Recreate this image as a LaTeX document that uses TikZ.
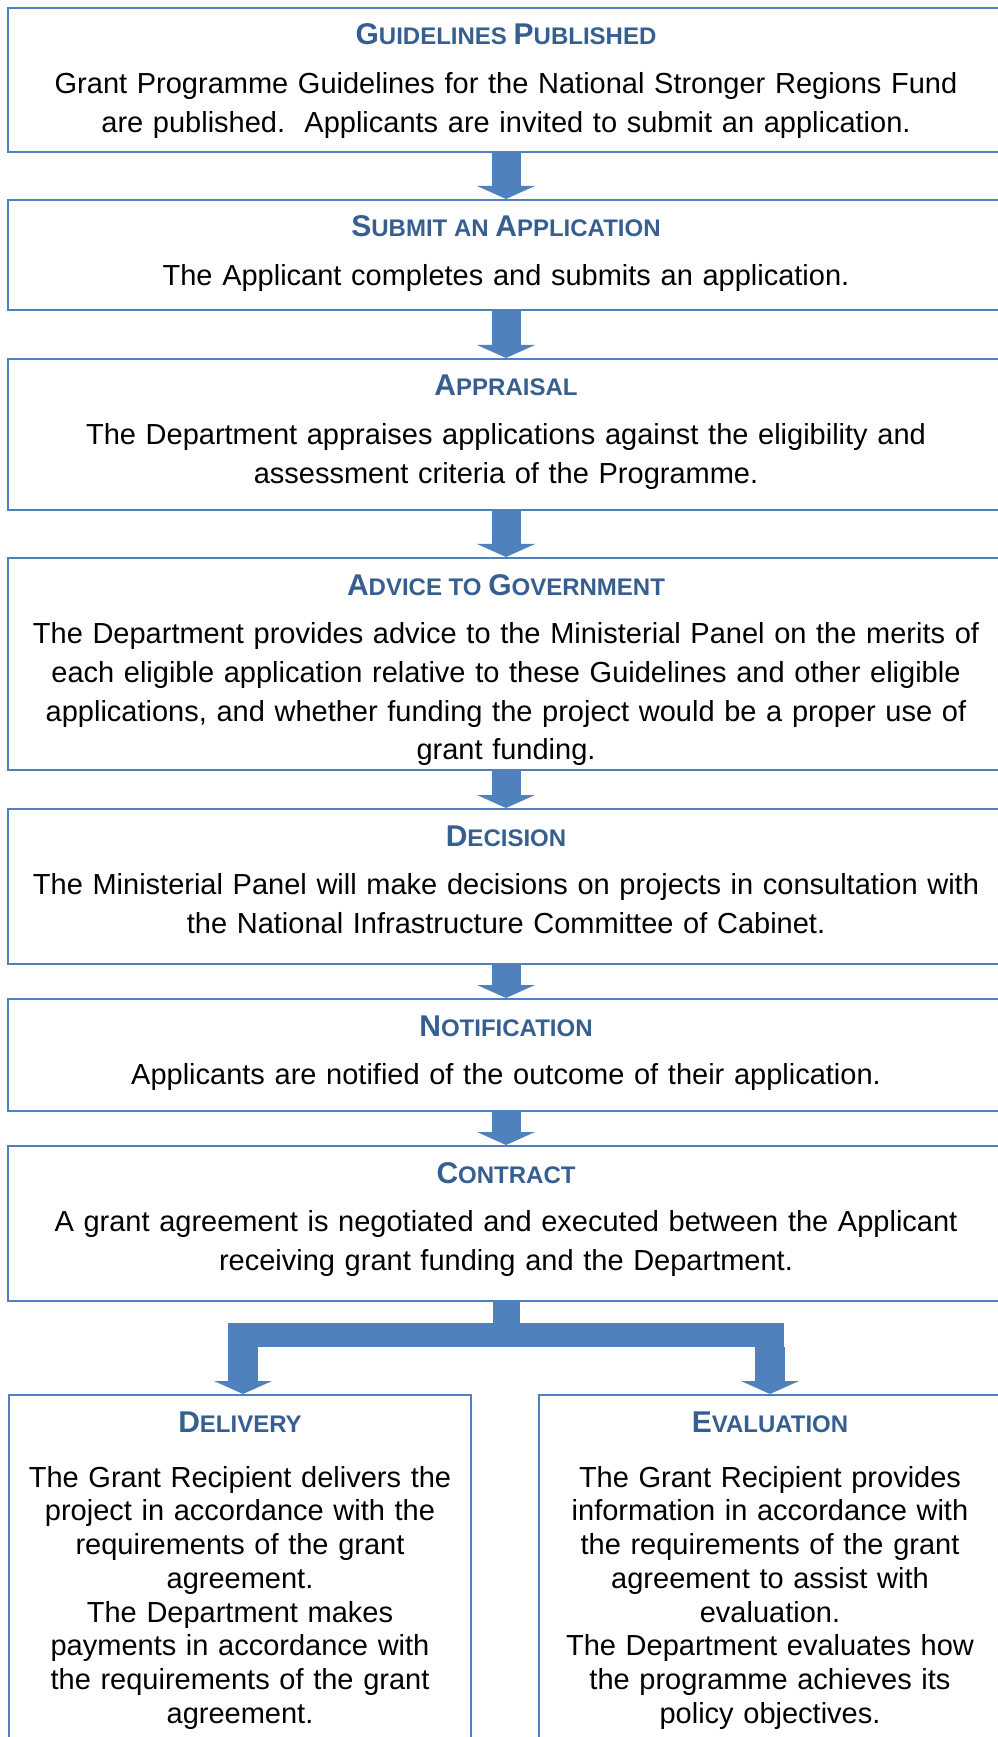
\documentclass[tikz,border=0pt]{standalone}
\usepackage{fontspec}
\setmainfont{Liberation Sans}
\usetikzlibrary{arrows.meta}
\frenchspacing
\definecolor{boxblue}{HTML}{4F81BD}
\definecolor{headblue}{HTML}{365F91}
\newcommand{\initcap}[1]{{\fontsize{12}{14}\selectfont #1}}
\tikzset{
stage/.style={draw=boxblue, line width=0.75pt, minimum width=398.4pt,
	anchor=north, inner sep=0pt},
heading/.style={anchor=base, inner sep=0pt, text=headblue,
	font=\fontsize{9.6}{12}\selectfont\bfseries},
body/.style={anchor=base, inner sep=0pt, text width=440pt, align=center,
	font=\fontsize{11.6}{15.5}\selectfont},
narrow/.style={body, text width=180pt, font=\fontsize{11.6}{13.5}\selectfont},
stem/.style={draw=boxblue, line width=10.8pt},
flow/.style={draw=boxblue, line width=11.6pt,
	-{Triangle[length=5.2pt, width=23.2pt, line width=0pt]}}
}

\begin{document}
\begin{tikzpicture}[x=0.4pt, y=-0.4pt]
	\useasboundingbox (0,0) rectangle (998,1737);
	\node[stage, minimum height=57.6pt] (pub) at (506,7) {};
	\node[heading] (pubT) at ([yshift=-15.2pt]pub.north) {\initcap{G}UIDELINES \initcap{P}UBLISHED};
	\node[body] (pubB) at ([yshift=-34.6pt]pub.north) {Grant Programme Guidelines for the National Stronger Regions Fund\\
		are published.~ Applicants are invited to submit an application.};
	\node[stage, minimum height=44pt] (sub) at (506,199) {};
	\node[heading] (subT) at ([yshift=-15.2pt]sub.north) {\initcap{S}UBMIT AN \initcap{A}PPLICATION};
	\node[body] (subB) at ([yshift=-34.6pt]sub.north) {The Applicant completes and submits an application.};
	\node[stage, minimum height=60.4pt] (appr) at (506,358) {};
	\node[heading] (apprT) at ([yshift=-15.2pt]appr.north) {\initcap{A}PPRAISAL};
	\node[body] (apprB) at ([yshift=-34.6pt]appr.north) {The Department appraises applications against the eligibility and\\
		assessment criteria of the Programme.};
	\node[stage, minimum height=84.8pt] (adv) at (506,557) {};
	\node[heading] (advT) at ([yshift=-15.2pt]adv.north) {\initcap{A}DVICE TO \initcap{G}OVERNMENT};
	\node[body] (advB) at ([yshift=-34.6pt]adv.north) {The Department provides advice to the Ministerial Panel on the merits of\\
		each eligible application relative to these Guidelines and other eligible\\
		applications, and whether funding the project would be a proper use of\\
		grant funding.};
	\node[stage, minimum height=62pt] (dec) at (506,808) {};
	\node[heading] (decT) at ([yshift=-15.2pt]dec.north) {\initcap{D}ECISION};
	\node[body] (decB) at ([yshift=-34.6pt]dec.north) {The Ministerial Panel will make decisions on projects in consultation with\\
		the National Infrastructure Committee of Cabinet.};
	\node[stage, minimum height=44.8pt] (note) at (506,998) {};
	\node[heading] (noteT) at ([yshift=-15.2pt]note.north) {\initcap{N}OTIFICATION};
	\node[body] (noteB) at ([yshift=-34.6pt]note.north) {Applicants are notified of the outcome of their application.};
	\node[stage, minimum height=62pt] (contr) at (506,1145) {};
	\node[heading] (contrT) at ([yshift=-15.2pt]contr.north) {\initcap{C}ONTRACT};
	\node[body] (contrB) at ([yshift=-34.6pt]contr.north) {A grant agreement is negotiated and executed between the Applicant\\
		receiving grant funding and the Department.};
	\node[stage, minimum width=184.8pt, minimum height=144pt] (deliv) at (240,1394) {};
	\node[heading] (delivT) at ([yshift=-15.2pt]deliv.north) {\initcap{D}ELIVERY};
	\node[narrow] (delivB) at ([yshift=-37.2pt]deliv.north) {The Grant Recipient delivers the\\
		project in accordance with the\\ requirements of the grant\\ agreement.\\
		The Department makes\\ payments in accordance with\\
		the requirements of the grant\\ agreement.};
	\node[stage, minimum width=184.8pt, minimum height=144pt] (eval) at (770,1394) {};
	\node[heading] (evalT) at ([yshift=-15.2pt]eval.north) {\initcap{E}VALUATION};
	\node[narrow] (evalB) at ([yshift=-37.2pt]eval.north) {The Grant Recipient provides\\
		information in accordance with\\ the requirements of the grant\\
		agreement to assist with\\ evaluation.\\ The Department evaluates how\\
		the programme achieves its\\ policy objectives.};
	\draw[flow] (pub.south) -- (sub.north);
	\draw[flow] (sub.south) -- (appr.north);
	\draw[flow] (appr.south) -- (adv.north);
	\draw[flow] (adv.south) -- (dec.north);
	\draw[flow] (dec.south) -- (note.north);
	\draw[flow] (note.south) -- (contr.north);
	\coordinate (split) at (506,1347);
	\coordinate (barL) at (243,1335);
	\coordinate (barR) at (770,1335);
	\draw[stem] (contr.south) -- (split);
	\draw[stem, line width=9.6pt] ([xshift=-6pt]barL) -- ([xshift=5.6pt]barR);
	\draw[flow, line width=12pt] (barL |- split) -- (barL |- deliv.north);
	\draw[flow, line width=12pt] (barR |- split) -- (barR |- eval.north);
\end{tikzpicture}
\end{document}
